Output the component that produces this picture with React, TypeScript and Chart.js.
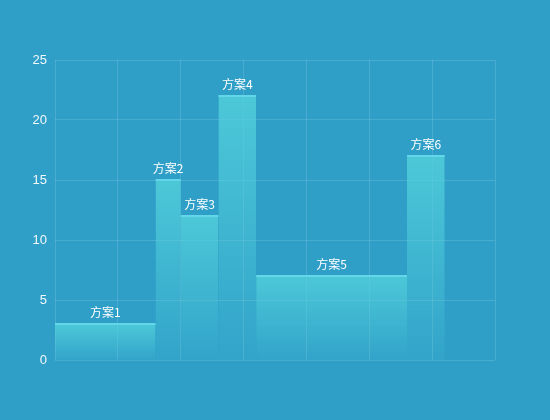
import { useEffect, useRef } from "react";
import { Chart, registerables } from "chart.js";

Chart.register(...registerables);

// Variable-width bars: each plan covers a span on the x axis
const categories = ['方案1', '方案2', '方案3', '方案4', '方案5', '方案6'];
const widths = [16, 4, 6, 6, 24, 6];
const values = [3, 15, 12, 22, 7, 17];
const yTicks = [0, 5, 10, 15, 20, 25];
const xMax = 70;

const starts: number[] = [];
widths.reduce((acc, w) => {
  starts.push(acc);
  return acc + w;
}, 0);

const labelPlugin = {
  id: 'barLabels',
  afterDatasetsDraw(chart: Chart) {
    const { ctx, scales } = chart;
    ctx.save();
    ctx.fillStyle = '#ffffff';
    ctx.font = "12px 'Noto Sans CJK SC', sans-serif";
    ctx.textAlign = 'center';
    ctx.textBaseline = 'bottom';
    categories.forEach((name, i) => {
      const x = scales.x.getPixelForValue(starts[i] + widths[i] / 2);
      const y = scales.y.getPixelForValue(values[i]);
      ctx.fillText(name, x, y - 6);
    });
    ctx.restore();
  }
};

export default function App() {
  const chartRef = useRef<HTMLCanvasElement>(null);
  const chartInstance = useRef<Chart | null>(null);

  useEffect(() => {
    if (!chartRef.current) return;
    if (chartInstance.current) {
      chartInstance.current.destroy();
    }
    const ctx = chartRef.current.getContext('2d');
    if (!ctx) return;

    const datasets = categories.map((name, i) => ({
      label: name,
      data: [
        { x: starts[i], y: values[i] },
        { x: starts[i] + widths[i], y: values[i] }
      ],
      fill: 'origin',
      borderColor: '#63d6ea',
      borderWidth: 2,
      pointRadius: 0,
      tension: 0,
      backgroundColor: (c: any) => {
        const chart = c.chart;
        const area = chart.chartArea;
        if (!area) return 'rgba(80,205,218,0.6)';
        const top = chart.scales.y.getPixelForValue(values[i]);
        const g = chart.ctx.createLinearGradient(0, top, 0, area.bottom);
        g.addColorStop(0, 'rgba(84,210,220,0.8)');
        g.addColorStop(1, 'rgba(84,210,220,0.1)');
        return g;
      }
    }));

    chartInstance.current = new Chart(ctx, {
      type: 'line',
      data: { datasets: datasets as any },
      plugins: [labelPlugin],
      options: {
        responsive: true,
        maintainAspectRatio: false,
        animation: false,
        layout: { padding: { top: 60, right: 55, bottom: 60, left: 0 } },
        plugins: {
          legend: { display: false },
          tooltip: { enabled: false }
        },
        scales: {
          x: {
            type: 'linear',
            min: 0,
            max: xMax,
            ticks: { display: false, stepSize: 10 },
            grid: { color: 'rgba(255,255,255,0.13)', drawTicks: false },
            border: { display: false }
          },
          y: {
            min: yTicks[0],
            max: yTicks[yTicks.length - 1],
            afterFit: (s: any) => { s.width = 55; },
            afterBuildTicks: (s: any) => { s.ticks = yTicks.map(v => ({ value: v })); },
            ticks: {
              color: '#f2f8fb',
              padding: 8,
              font: { size: 13, family: "'Liberation Sans', sans-serif" }
            },
            grid: { color: 'rgba(255,255,255,0.13)', drawTicks: false },
            border: { display: false }
          }
        }
      }
    });

    return () => {
      if (chartInstance.current) {
        chartInstance.current.destroy();
        chartInstance.current = null;
      }
    };
  }, []);

  return (
    <div style={{ position: 'fixed', top: 0, left: 0, width: 550, height: 420, background: '#2f9fc8' }}>
      <canvas ref={chartRef} />
    </div>
  );
}
